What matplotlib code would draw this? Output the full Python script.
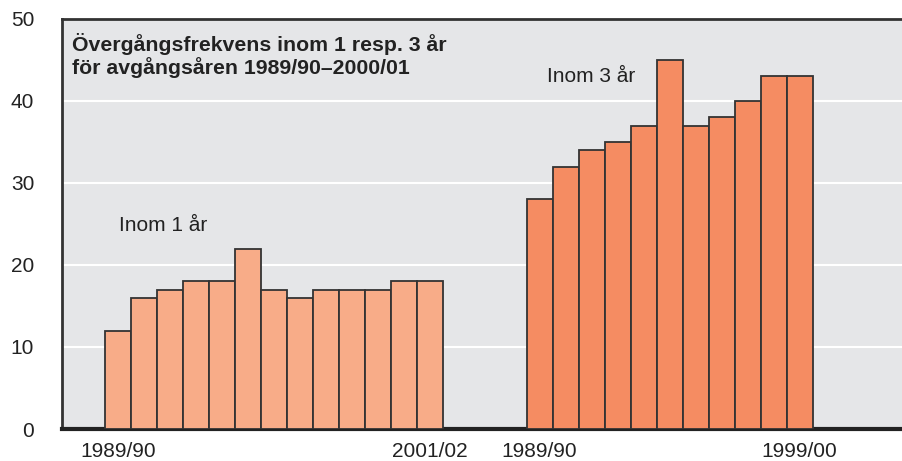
import matplotlib
matplotlib.use("Agg")
import matplotlib.pyplot as plt
import numpy as np

plt.rcParams['font.family'] = ['Liberation Sans', 'DejaVu Sans']

# Inom 1 år, avgångsår 1989/90 - 2001/02
one_year = [12, 16, 17, 18, 18, 22, 17, 16, 17, 17, 17, 18, 18]
# Inom 3 år, avgångsår 1989/90 - 1999/00
three_years = [28, 32, 34, 35, 37, 45, 37, 38, 40, 43, 43]
one_labels = ['1989/90', '2001/02']
three_labels = ['1989/90', '1999/00']
yticks = [0, 10, 20, 30, 40, 50]

x1 = np.arange(len(one_year)) + 2.15
x2 = np.arange(len(three_years)) + 18.37

fig = plt.figure(figsize=(9.03, 4.61), dpi=100)
ax = fig.add_axes([62 / 903, 32 / 461, 841 / 903, 410 / 461])
ax.set_facecolor('#e5e6e8')

ax.bar(x1, one_year, width=1.0, color='#f8ac88', edgecolor='#333333', linewidth=1.3, zorder=3)
ax.bar(x2, three_years, width=1.0, color='#f58c62', edgecolor='#333333', linewidth=1.3, zorder=3)

ax.set_xlim(0, 32.35)
ax.set_ylim(0, 50)
ax.set_yticks(yticks)
ax.yaxis.grid(True, color='white', linewidth=1.5, zorder=1)
ax.set_axisbelow(True)

ax.set_xticks([x1[0], x1[-1], x2[0], x2[-1]])
ax.set_xticklabels(one_labels + three_labels)
ax.tick_params(axis='both', length=0, labelsize=15, colors='#222222')
ax.tick_params(axis='x', pad=9)
ax.tick_params(axis='y', pad=20)

for s in ['left', 'top']:
    ax.spines[s].set_linewidth(2)
    ax.spines[s].set_color('#333333')
ax.spines['bottom'].set_linewidth(3)
ax.spines['bottom'].set_color('#222222')
ax.spines['right'].set_visible(False)

ax.text(0.012, 0.965, 'Övergångsfrekvens inom 1 resp. 3 år\nför avgångsåren 1989/90–2000/01',
        transform=ax.transAxes, ha='left', va='top', fontsize=15.3, fontweight='bold',
        color='#222222', linespacing=1.12)
ax.text(x2[0] + 0.3, 42.3, 'Inom 3 år', fontsize=15, color='#222222', ha='left', va='baseline')
ax.text(x1[0] + 0.05, 24.2, 'Inom 1 år', fontsize=15, color='#222222', ha='left', va='baseline')

fig.savefig('out.png', dpi=100)
